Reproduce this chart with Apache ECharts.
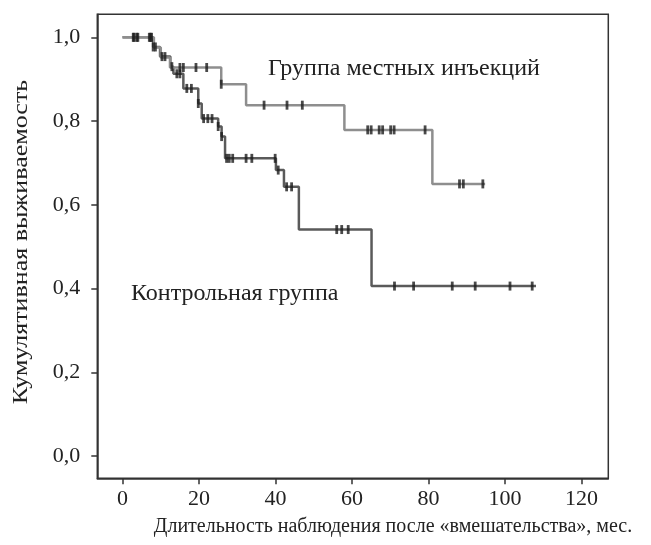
<!DOCTYPE html>
<html>
<head>
<meta charset="utf-8">
<script src="https://cdn.jsdelivr.net/npm/echarts@6/dist/echarts.min.js"></script>
<style>html,body{margin:0;padding:0;background:#fff}#c{width:651px;height:545px}</style>
</head>
<body>
<div id="c"></div>
<script>
// Injection group (Группа местных инъекций): step times and survival after each step
const injTimes = [0, 8.2, 10.0, 12.4, 25.8, 32.3, 58.0, 81.0, 94.8];
const injSurv  = [1.0, 0.976, 0.952, 0.928, 0.888, 0.838, 0.779, 0.650, 0.650];
const injCensor = [2.8, 3.7, 7.0, 7.6, 15.0, 15.9, 19.2, 22.0, 25.8, 37.0, 43.0, 47.0,
                   64.1, 65.0, 67.1, 68.0, 70.1, 71.0, 79.1, 88.1, 89.1, 94.2];
// Control group (Контрольная группа)
const ctrlTimes = [0, 8.0, 9.8, 12.5, 13.3, 15.9, 19.8, 20.7, 25.0, 25.9, 26.8, 40.1, 42.2, 46.1, 65.1, 108.1];
const ctrlSurv  = [1.0, 0.977, 0.954, 0.930, 0.913, 0.878, 0.842, 0.806, 0.787, 0.763, 0.711, 0.683, 0.643, 0.541, 0.406, 0.406];
const ctrlCensor = [3.0, 4.0, 7.3, 8.0, 8.6, 10.3, 11.1, 12.9, 14.2, 15.0, 16.8, 18.0, 19.8,
                    21.2, 22.3, 23.4, 25.0, 25.9, 27.2, 27.9, 28.8, 32.3, 33.8, 39.9, 40.7,
                    42.9, 44.2, 56.0, 57.3, 59.0, 71.1, 76.1, 86.2, 92.2, 101.3, 107.1];
const xTicks = [0, 20, 40, 60, 80, 100, 120];
const yTicks = [0, 0.2, 0.4, 0.6, 0.8, 1.0];
const labelInj = 'Группа местных инъекций';
const labelCtrl = 'Контрольная группа';
const xName = 'Длительность наблюдения после «вмешательства», мес.';
const yName = 'Кумулятивная выживаемость';

function stepVal(times, surv, t) {
  let v = surv[0];
  for (let i = 0; i < times.length; i++) { if (times[i] <= t) v = surv[i]; }
  return v;
}
const pts = (times, surv) => times.map((t, i) => [t, surv[i]]);
const cens = (times, surv, c) => c.map(t => [t, stepVal(times, surv, t)]);

const FONT = '"Liberation Serif", "DejaVu Serif", serif';
const chart = echarts.init(document.getElementById('c'), null, {renderer: 'canvas'});
chart.setOption({
  animation: false,
  backgroundColor: '#fff',
  grid: {left: 97.3, right: 42.7, top: 14.3, bottom: 66.7, show: true, borderColor: '#333', borderWidth: 1.5},
  xAxis: {
    type: 'value', min: -6.6, max: 127,
    axisLine: {show: true, onZero: false, lineStyle: {color: '#333', width: 1.5}},
    axisTick: {show: true, customValues: xTicks, length: 6, lineStyle: {color: '#333', width: 1.5}},
    axisLabel: {customValues: xTicks, fontSize: 22, fontFamily: FONT, color: '#222', margin: 10},
    splitLine: {show: false}
  },
  yAxis: {
    type: 'value', min: -0.053, max: 1.055,
    axisLine: {show: true, onZero: false, lineStyle: {color: '#333', width: 1.5}},
    axisTick: {show: true, customValues: yTicks, length: 6, lineStyle: {color: '#333', width: 1.5}},
    axisLabel: {customValues: yTicks, fontSize: 22, fontFamily: FONT, color: '#222', margin: 17,
      formatter: v => v.toFixed(1).replace('.', ',')},
    splitLine: {show: false}
  },
  series: [
    {type: 'line', step: 'end', data: pts(ctrlTimes, ctrlSurv), showSymbol: false, symbol: 'none',
     lineStyle: {color: '#5a5a5a', width: 2.5}, z: 2},
    {type: 'line', step: 'end', data: pts(injTimes, injSurv), showSymbol: false, symbol: 'none',
     lineStyle: {color: '#8e8e8e', width: 2.5}, z: 3},
    {type: 'scatter', data: cens(ctrlTimes, ctrlSurv, ctrlCensor), symbol: 'rect', symbolSize: [2.8, 9],
     itemStyle: {color: '#1c1c1c'}, z: 5},
    {type: 'scatter', data: cens(injTimes, injSurv, injCensor), symbol: 'rect', symbolSize: [2.8, 9],
     itemStyle: {color: '#1c1c1c'}, z: 5}
  ],
  graphic: [
    {type: 'text', left: 268, top: 57, style: {text: labelInj, font: '24px ' + FONT, fill: '#222'}},
    {type: 'text', left: 131, top: 282, style: {text: labelCtrl, font: '24px ' + FONT, fill: '#222'}},
    {type: 'text', x: 393, y: 527, style: {text: xName, font: '20px ' + FONT, fill: '#222', align: 'center', verticalAlign: 'middle'}},
    {type: 'text', x: 22, y: 242, rotation: Math.PI / 2, scaleX: 1.3,
     style: {text: yName, font: '20px ' + FONT, fill: '#222', align: 'center', verticalAlign: 'middle'}}
  ]
});
</script>
</body>
</html>
